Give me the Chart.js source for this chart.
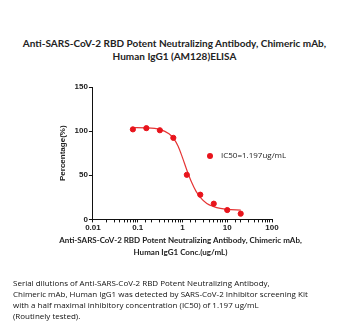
<!DOCTYPE html>
<html>
<head>
<meta charset="utf-8">
<script src="https://cdn.jsdelivr.net/npm/chart.js@4"></script>
<style>
  html, body { margin: 0; padding: 0; background: #fff; }
  #wrap { position: relative; width: 349px; height: 331px; overflow: hidden; }
  #chartBox { position: absolute; left: 0; top: 0; width: 349px; height: 240px; }
  .ctr { position: absolute; left: 0; width: 349px; text-align: center; color: #222; white-space: nowrap; }
  #title { top: 37px; font: bold 10px/13px Lato, sans-serif; }
  #xTitle { left: 6px; top: 235px; font: bold 8px/11.5px Lato, sans-serif; }
  #legend { position: absolute; left: 207px; top: 149px; font: 8px "Open Sans", sans-serif; color: #222; white-space: nowrap; }
  #legend .dot { display: inline-block; width: 6px; height: 6px; border-radius: 50%; background: #e8141c; margin-right: 8px; vertical-align: -0.5px; }
  #caption { position: absolute; left: 13px; top: 277px; font: 8px/11px "Open Sans", sans-serif; color: #111; white-space: nowrap; }
</style>
</head>
<body>
<div id="wrap">
  <div id="title" class="ctr">Anti-SARS-CoV-2 RBD Potent Neutralizing Antibody, Chimeric mAb,<br>Human IgG1 (AM128)ELISA</div>
  <div id="chartBox"><canvas id="elisaChart" width="349" height="240"></canvas></div>
  <div id="legend"><span class="dot"></span>IC50=1.197ug/mL</div>
  <div id="xTitle" class="ctr">Anti-SARS-CoV-2 RBD Potent Neutralizing Antibody, Chimeric mAb,<br>Human IgG1 Conc.(ug/mL)</div>
  <div id="caption">
    Serial dilutions of Anti-SARS-CoV-2 RBD Potent Neutralizing Antibody,<br>
    Chimeric mAb, Human IgG1 was detected by SARS-CoV-2 Inhibitor screening Kit<br>
    with a half maximal inhibitory concentration (IC50) of 1.197 ug/mL<br>
    (Routinely tested).
  </div>
</div>
<script>
// measured points (conc. ug/mL vs percentage)
const conc = [0.078, 0.156, 0.3125, 0.625, 1.25, 2.5, 5, 10, 20];
const percent = [102, 103.4, 101, 92.4, 50.5, 28, 17.8, 10.6, 6.5];

// fitted curve
const curveX = [0.078, 0.156, 0.3125, 0.5, 0.625, 0.8, 1, 1.25, 1.6, 2, 2.5, 3.5, 5, 7, 10, 20];
const curveY = [104, 103.8, 102, 97, 92, 83, 70, 56, 42, 32, 25, 18, 14.5, 12.5, 11.3, 10.5];

const xTicks = [0.01, 0.1, 1, 10, 100];
const yTicks = [0, 50, 100, 150];

const red = '#e8141c';
const ink = '#222';

document.addEventListener('DOMContentLoaded', () => {
    const ctx = document.getElementById('elisaChart');
    new Chart(ctx, {
        type: 'scatter',
        data: {
            datasets: [{
                label: 'IC50=1.197ug/mL',
                data: conc.map((c, i) => ({ x: c, y: percent[i] })),
                backgroundColor: red,
                borderColor: red,
                pointRadius: 2.6,
                showLine: false
            }, {
                label: 'fit',
                data: curveX.map((c, i) => ({ x: c, y: curveY[i] })),
                borderColor: '#e53535',
                borderWidth: 1.2,
                pointRadius: 0,
                showLine: true,
                cubicInterpolationMode: 'monotone'
            }]
        },
        options: {
            responsive: false,
            animation: false,
            layout: { padding: { top: 87, left: 58, right: 77, bottom: 6 } },
            plugins: {
                legend: { display: false },
                tooltip: { enabled: false }
            },
            scales: {
                x: {
                    type: 'logarithmic',
                    min: 0.01,
                    max: 100,
                    border: { color: '#111', width: 1 },
                    grid: { drawOnChartArea: false, color: '#111', tickLength: 3 },
                    ticks: {
                        autoSkip: false,
                        maxRotation: 0,
                        color: ink,
                        padding: 1,
                        font: { family: 'Liberation Sans', size: 8, weight: 'bold' },
                        callback: (v) => xTicks.includes(Number(v)) ? String(v) : ''
                    }
                },
                y: {
                    min: 0,
                    max: 150,
                    afterBuildTicks: (axis) => { axis.ticks = yTicks.map(v => ({ value: v })); },
                    border: { color: '#111', width: 1 },
                    grid: { drawOnChartArea: false, color: '#111', tickLength: 4 },
                    ticks: {
                        color: ink,
                        padding: 1,
                        font: { family: 'Liberation Sans', size: 8, weight: 'bold' }
                    },
                    title: {
                        display: true,
                        text: 'Percentage(%)',
                        color: ink,
                        font: { family: 'Liberation Sans', size: 8, weight: 'bold' },
                        padding: { top: 0, bottom: 6 }
                    }
                }
            }
        }
    });
});
</script>
</body>
</html>
